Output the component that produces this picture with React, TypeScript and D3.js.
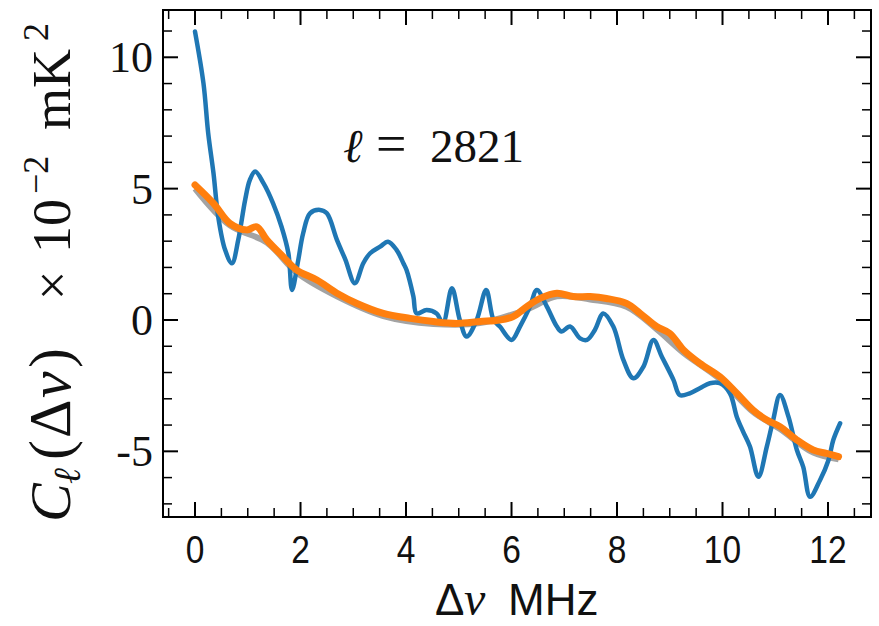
import React from "react";
import * as d3 from "d3";

// Blue series
const blueX = [0.0, 0.16, 0.25, 0.35, 0.44, 0.57, 0.7, 0.82, 0.95, 1.04, 1.14, 1.3, 1.48, 1.64, 1.77, 1.84, 1.95, 2.05, 2.18, 2.37, 2.5, 2.69, 2.85, 3.03, 3.19, 3.32, 3.51, 3.66, 3.82, 3.95, 4.01, 4.14, 4.2, 4.39, 4.58, 4.7, 4.87, 5.02, 5.15, 5.34, 5.52, 5.66, 5.78, 6.0, 6.16, 6.35, 6.48, 6.67, 6.86, 6.95, 7.11, 7.3, 7.43, 7.58, 7.74, 7.93, 8.12, 8.31, 8.5, 8.69, 8.85, 9.07, 9.19, 9.38, 9.57, 9.76, 9.95, 10.14, 10.27, 10.39, 10.52, 10.68, 10.84, 10.96, 11.09, 11.25, 11.41, 11.53, 11.66, 11.85, 12.01, 12.1, 12.23];
const blueY = [10.98, 9.01, 7.11, 5.59, 3.93, 2.67, 2.16, 3.05, 4.57, 5.33, 5.65, 5.2, 4.44, 3.55, 2.54, 1.14, 2.2, 3.3, 4.06, 4.19, 4.06, 3.05, 2.3, 1.4, 2.16, 2.54, 2.79, 2.98, 2.67, 2.16, 1.9, 0.89, 0.25, 0.38, 0.25, -0.13, 1.21, 0.0, -0.63, 0.0, 1.14, 0.0, -0.25, -0.76, -0.25, 0.51, 1.14, 0.51, -0.25, -0.44, -0.25, -0.7, -0.76, -0.38, 0.25, -0.25, -1.52, -2.22, -1.78, -0.76, -1.4, -2.28, -2.86, -2.79, -2.6, -2.41, -2.41, -2.79, -3.68, -4.25, -4.82, -5.97, -4.82, -3.81, -2.86, -3.68, -4.95, -5.59, -6.73, -6.09, -5.33, -4.57, -3.93];

// Orange series
const orangeX = [0.0, 0.35, 0.66, 0.98, 1.17, 1.36, 1.67, 1.93, 2.31, 2.69, 3.07, 3.57, 4.08, 4.52, 4.96, 5.4, 5.78, 6.03, 6.29, 6.54, 6.86, 7.17, 7.49, 7.8, 8.18, 8.44, 8.75, 9.0, 9.26, 9.57, 9.95, 10.27, 10.58, 10.84, 11.09, 11.41, 11.72, 11.97, 12.2];
const orangeY = [5.14, 4.44, 3.68, 3.43, 3.55, 3.05, 2.41, 1.9, 1.52, 1.02, 0.63, 0.25, 0.06, -0.06, -0.13, -0.06, 0.0, 0.13, 0.51, 0.82, 1.02, 0.89, 0.89, 0.82, 0.63, 0.25, -0.25, -0.51, -1.14, -1.65, -2.16, -2.79, -3.43, -3.81, -4.06, -4.57, -4.95, -5.08, -5.2];

// Grey series (mostly hidden under the orange one)
const greyX = [0.0, 0.66, 1.36, 1.93, 2.69, 3.57, 4.52, 5.4, 6.29, 6.86, 7.49, 8.18, 8.75, 9.26, 9.95, 10.58, 11.09, 11.72, 12.2];
const greyY = [5.0, 3.6, 2.95, 1.8, 0.9, 0.15, -0.15, -0.12, 0.4, 0.9, 0.78, 0.5, -0.35, -1.25, -2.25, -3.5, -4.15, -5.05, -5.3];

const xTicks = [0, 2, 4, 6, 8, 10, 12];
const xTickLabels = ["0", "2", "4", "6", "8", "10", "12"];
const yTicks = [-5, 0, 5, 10];
const yTickLabels = ["-5", "0", "5", "10"];
const annotationLabel = "2821";

export default function App() {
  const W = 879, H = 626;
  const left = 163, right = 871, top = 10, bottom = 517;
  const x = d3.scaleLinear().domain([-0.607, 12.815]).range([left, right]);
  const y = d3.scaleLinear().domain([-7.5, 11.8]).range([bottom, top]);

  const line = (xs: number[], ys: number[]) =>
    d3
      .line<number>()
      .x((_, i) => x(xs[i]))
      .y((d) => y(d))
      .curve(d3.curveCatmullRom.alpha(0.5))(ys) || "";

  const xMinor = d3.range(-0.5, 12.81, 0.5).filter((v) => Math.abs(v / 2 - Math.round(v / 2)) > 1e-6);
  const yMinor = d3.range(-7, 11.01, 1).filter((v) => v % 5 !== 0);

  const serif = "'Liberation Serif', 'DejaVu Serif', serif";
  const sans = "'Liberation Sans', 'DejaVu Sans', sans-serif";
  const majL = 15, minL = 9;

  return (
    <svg width={W} height={H} style={{ position: "absolute", left: 0, top: 0, background: "#fff" }}>
      <rect x={0} y={0} width={W} height={H} fill="#fff" />
      <g>
        <path d={line(greyX, greyY)} fill="none" stroke="#a3a3a3" strokeWidth={6} strokeLinejoin="round" />
        <path d={line(blueX, blueY)} fill="none" stroke="#1f77b4" strokeWidth={4.5} strokeLinejoin="round" strokeLinecap="round" />
        <path d={line(orangeX, orangeY)} fill="none" stroke="#ff7f0e" strokeWidth={7} strokeLinejoin="round" strokeLinecap="round" />
      </g>
      {/* ticks */}
      <g stroke="#000">
        {xTicks.map((t) => (
          <g key={"xt" + t}>
            <line x1={x(t)} x2={x(t)} y1={bottom} y2={bottom - majL} strokeWidth={2} />
            <line x1={x(t)} x2={x(t)} y1={top} y2={top + majL} strokeWidth={2} />
          </g>
        ))}
        {xMinor.map((t) => (
          <g key={"xm" + t}>
            <line x1={x(t)} x2={x(t)} y1={bottom} y2={bottom - minL} strokeWidth={1.5} />
            <line x1={x(t)} x2={x(t)} y1={top} y2={top + minL} strokeWidth={1.5} />
          </g>
        ))}
        {yTicks.map((t) => (
          <g key={"yt" + t}>
            <line x1={left} x2={left + majL} y1={y(t)} y2={y(t)} strokeWidth={2} />
            <line x1={right} x2={right - majL} y1={y(t)} y2={y(t)} strokeWidth={2} />
          </g>
        ))}
        {yMinor.map((t) => (
          <g key={"ym" + t}>
            <line x1={left} x2={left + minL} y1={y(t)} y2={y(t)} strokeWidth={1.5} />
            <line x1={right} x2={right - minL} y1={y(t)} y2={y(t)} strokeWidth={1.5} />
          </g>
        ))}
      </g>
      <rect x={left} y={top} width={right - left} height={bottom - top} fill="none" stroke="#000" strokeWidth={2} />
      {/* x tick labels */}
      {xTicks.map((t, i) => (
        <text key={"xl" + t} transform={`translate(${x(t)},563) scale(0.86,1)`} textAnchor="middle" fontFamily={sans} fontSize={39} fill="#111">
          {xTickLabels[i]}
        </text>
      ))}
      {/* y tick labels */}
      {yTicks.map((t, i) => (
        <text key={"yl" + t} x={153} y={y(t) + 15} textAnchor="end" fontFamily={serif} fontSize={44} fill="#111">
          {yTickLabels[i]}
        </text>
      ))}
      {/* x label */}
      <text x={435} y={615} fontFamily={sans} fontSize={44} fill="#111">Δ</text>
      <text x={464} y={615} fontFamily={serif} fontStyle="italic" fontSize={48} fill="#111">ν</text>
      <text x={508} y={615} fontFamily={sans} fontSize={44} fill="#111">MHz</text>
      {/* y label */}
      <g transform="translate(70,522) rotate(-90)" fontFamily={serif} fill="#111">
        <text x={0} y={0} fontSize={58} fontStyle="italic">C</text>
        <text x={38} y={10} fontSize={38} fontStyle="italic">ℓ</text>
        <text x={62} y={0} fontSize={60}>(</text>
        <text x={84} y={0} fontSize={60}>Δ</text>
        <text x={124} y={0} fontSize={60} fontStyle="italic">ν</text>
        <text x={154} y={0} fontSize={60}>)</text>
        <text x={222} y={0} fontSize={52}>×</text>
        <text x={269} y={0} fontSize={54}>10</text>
        <text x={328} y={-22} fontSize={36}>−2</text>
        <text x={392} y={0} fontSize={54}>mK</text>
        <text x={481} y={-22} fontSize={36}>2</text>
      </g>
      {/* annotation */}
      <g fontFamily={serif} fill="#111" fontSize={47}>
        <text x={343} y={162} fontStyle="italic">ℓ</text>
        <text x={376} y={162} fontSize={54}>=</text>
        <text x={430} y={162}>{annotationLabel}</text>
      </g>
    </svg>
  );
}
